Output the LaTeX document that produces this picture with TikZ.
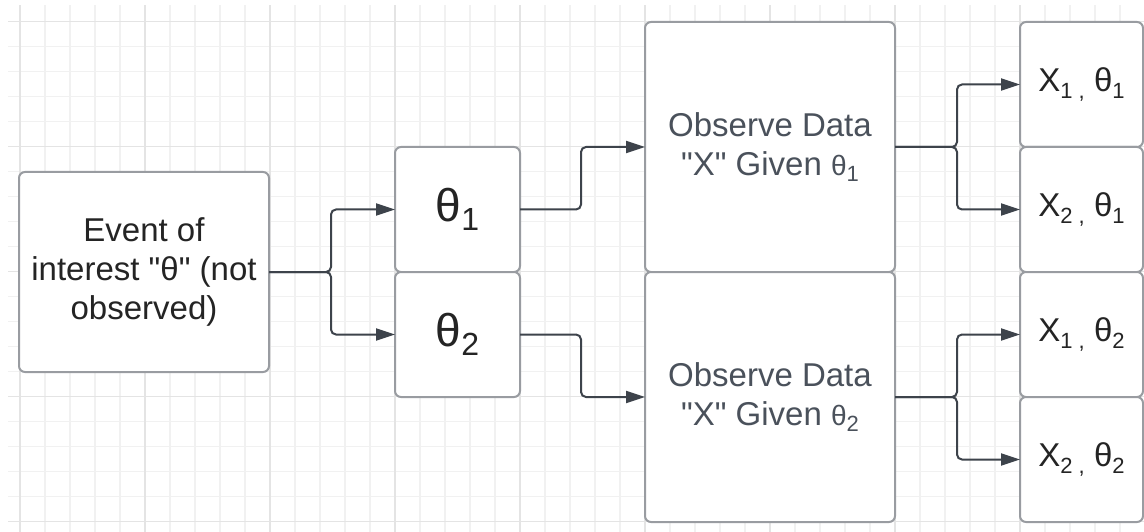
\documentclass[tikz,border=0pt]{standalone}
\usepackage{fontspec}
\setmainfont{Liberation Sans}
\usetikzlibrary{arrows.meta,positioning}
\definecolor{gridlo}{HTML}{F1F1F1}
\definecolor{gridhi}{HTML}{E4E4E4}
\definecolor{edge}{HTML}{999CA1}
\definecolor{wire}{HTML}{3D434B}
\definecolor{ink}{HTML}{242424}
\definecolor{slate}{HTML}{4A515B}
% lowered index in a given size
\newcommand{\low}[2]{\raisebox{-0.2em}{\fontsize{#1}{#1}\selectfont #2}}
\newcommand{\qt}{\textquotedbl}
\tikzset{
  box/.style={
    draw=edge, fill=white, rounded corners=6pt, line width=2pt,
    inner sep=0pt, outer sep=0pt, align=center, text=ink
  },
  arrow/.style={-{Triangle[length=19pt,width=12pt]}, line width=2pt, draw=wire, rounded corners=5pt},
  txt/.style={font=\fontsize{33}{39}\selectfont},
  big/.style={font=\fontsize{46}{50}\selectfont}
}

\begin{document}
\begin{tikzpicture}[x=1pt, y=-1pt]
  \useasboundingbox (0,0) rectangle (1144,532);
  \fill[white] (0,0) rectangle (1144,532);
  % background grid, heavier every fifth line
  \begin{scope}[shift={(20,21.5)}]
    \draw[gridlo, line width=1.5pt] (-12,-16.5) grid[step=25pt] (1124,510.5);
    \draw[gridhi, line width=1.5pt] (-12,-16.5) grid[step=125pt] (1124,510.5);
  \end{scope}

  \node[box, txt, minimum width=250, minimum height=200] (event) at (144,272)
    {Event of\\interest \qt θ\qt{} (not\\observed)};

  \node[box, big, minimum width=125, minimum height=125] (th1) at (457.5,209.5)
    {θ\low{32}{1}};
  \node[box, big, minimum width=125, minimum height=125, below=0pt of th1] (th2)
    {θ\low{32}{2}};

  \node[box, txt, text=slate, minimum width=250, minimum height=250] (obs1) at (770,147)
    {Observe Data\\\qt X\qt{} Given \scalebox{0.85}{θ}\low{22}{1}};
  \node[box, txt, text=slate, minimum width=250, minimum height=250, below=0pt of obs1] (obs2)
    {Observe Data\\\qt X\qt{} Given \scalebox{0.85}{θ}\low{22}{2}};

  \node[box, txt, minimum width=123, minimum height=125] (x11) at (1081.5,84.5)
    {X\low{22}{1 ,} θ\low{22}{1}};
  \node[box, txt, minimum width=123, minimum height=125, below=0pt of x11] (x21)
    {X\low{22}{2 ,} θ\low{22}{1}};
  \node[box, txt, minimum width=123, minimum height=125, below=0pt of x21] (x12)
    {X\low{22}{1 ,} θ\low{22}{2}};
  \node[box, txt, minimum width=123, minimum height=125, below=0pt of x12] (x22)
    {X\low{22}{2 ,} θ\low{22}{2}};

  \draw[arrow] (event.east) -- ++(62,0) |- (th1.west);
  \draw[arrow] (event.east) -- ++(62,0) |- (th2.west);
  \draw[arrow] (th1.east) -- ++(61,0) |- (obs1.west);
  \draw[arrow] (th2.east) -- ++(61,0) |- (obs2.west);
  \draw[arrow] (obs1.east) -- ++(62,0) |- (x11.west);
  \draw[arrow] (obs1.east) -- ++(62,0) |- (x21.west);
  \draw[arrow] (obs2.east) -- ++(62,0) |- (x12.west);
  \draw[arrow] (obs2.east) -- ++(62,0) |- (x22.west);
\end{tikzpicture}
\end{document}
